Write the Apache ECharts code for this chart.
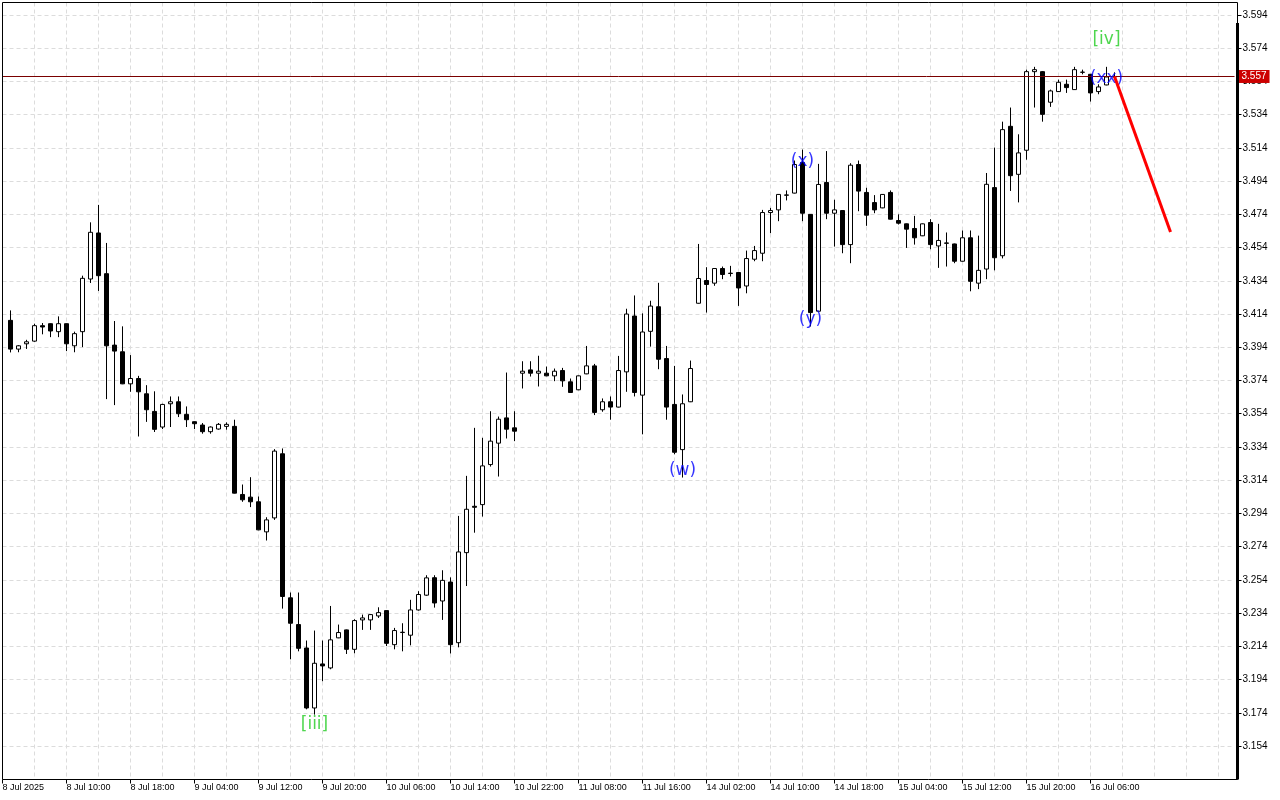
<!DOCTYPE html>
<html>
<head>
<meta charset="utf-8">
<script src="https://cdn.jsdelivr.net/npm/echarts@6/dist/echarts.min.js"></script>
<style>
  html, body { margin: 0; padding: 0; background: #fff; }
  #chart { width: 1280px; height: 800px; }
</style>
</head>
<body>
<div id="chart"></div>
<script>
// ---- Data (hourly candles) ----
const opens = [
  3.4102, 3.3929, 3.3961, 3.3977, 3.4070, 3.4082, 3.4034, 3.4082, 3.3949, 3.4034,
  3.4351, 3.4628, 3.4383, 3.3953, 3.3913, 3.3720, 3.3752, 3.3660, 3.3554, 3.3460,
  3.3600, 3.3612, 3.3536, 3.3492, 3.3472, 3.3432, 3.3448, 3.3464, 3.3464, 3.3054,
  3.3038, 3.3010, 3.2829, 3.2913, 3.3299, 3.2432, 3.2271, 3.2130, 3.1769, 3.2034,
  3.2010, 3.2191, 3.2239, 3.2122, 3.2299, 3.2299, 3.2323, 3.2355, 3.2150, 3.2223,
  3.2207, 3.2359, 3.2448, 3.2553, 3.2413, 3.2527, 3.2162, 3.2704, 3.2983, 3.2993,
  3.3234, 3.3363, 3.3515, 3.3455, 3.3784, 3.3804, 3.3784, 3.3784, 3.3768, 3.3800,
  3.3732, 3.3684, 3.3780, 3.3828, 3.3564, 3.3612, 3.3580, 3.3792, 3.4128, 3.3652,
  3.4036, 3.4184, 3.3872, 3.3596, 3.3324, 3.3612, 3.4205, 3.4342, 3.4326, 3.4414,
  3.4386, 3.4390, 3.4309, 3.4470, 3.4506, 3.4751, 3.4767, 3.4855, 3.4868, 3.5052,
  3.4740, 3.4157, 3.4932, 3.4747, 3.4763, 3.4558, 3.5040, 3.4872, 3.4811, 3.4779,
  3.4872, 3.4703, 3.4683, 3.4655, 3.4611, 3.4691, 3.4550, 3.4568, 3.4562, 3.4458,
  3.4599, 3.4326, 3.4411, 3.4901, 3.4491, 3.5270, 3.4981, 3.5126, 3.5599, 3.5599,
  3.5415, 3.5479, 3.5523, 3.5491, 3.5596, 3.5583, 3.5479, 3.5519, 3.5567
];
const closes = [
  3.3929, 3.3949, 3.3973, 3.4070, 3.4062, 3.4038, 3.4082, 3.3961, 3.4022, 3.4355,
  3.4632, 3.4371, 3.3949, 3.3917, 3.3720, 3.3752, 3.3672, 3.3564, 3.3446, 3.3596,
  3.3612, 3.3540, 3.3504, 3.3480, 3.3432, 3.3460, 3.3476, 3.3476, 3.3062, 3.3022,
  3.3010, 3.2841, 3.2901, 3.3315, 3.2440, 3.2279, 3.2128, 3.1769, 3.2038, 3.2022,
  3.2179, 3.2223, 3.2122, 3.2295, 3.2311, 3.2331, 3.2343, 3.2158, 3.2235, 3.2225,
  3.2359, 3.2452, 3.2552, 3.2401, 3.2537, 3.2150, 3.2708, 3.2965, 3.2977, 3.3226,
  3.3375, 3.3507, 3.3447, 3.3435, 3.3796, 3.3784, 3.3796, 3.3768, 3.3796, 3.3738,
  3.3668, 3.3768, 3.3828, 3.3548, 3.3612, 3.3580, 3.3800, 3.4140, 3.3668, 3.4032,
  3.4188, 3.3868, 3.3580, 3.3308, 3.3600, 3.3812, 3.4354, 3.4318, 3.4414, 3.4378,
  3.4384, 3.4297, 3.4474, 3.4522, 3.4751, 3.4763, 3.4860, 3.4857, 3.5040, 3.4747,
  3.4149, 3.4920, 3.4747, 3.4767, 3.4558, 3.5036, 3.4880, 3.4735, 3.4767, 3.4860,
  3.4711, 3.4687, 3.4651, 3.4599, 3.4683, 3.4558, 3.4583, 3.4566, 3.4458, 3.4599,
  3.4337, 3.4403, 3.4921, 3.4479, 3.5250, 3.4973, 3.5110, 3.5599, 3.5611, 3.5342,
  3.5483, 3.5535, 3.5503, 3.5611, 3.5595, 3.5471, 3.5507, 3.5567, 3.5570
];
const lows = [
  3.3909, 3.3910, 3.3930, 3.3973, 3.4018, 3.4001, 3.4001, 3.3917, 3.3910, 3.3941,
  3.4327, 3.4279, 3.3628, 3.3592, 3.3718, 3.3672, 3.3403, 3.3491, 3.3430, 3.3448,
  3.3460, 3.3520, 3.3460, 3.3448, 3.3420, 3.3420, 3.3444, 3.3444, 3.3060, 3.3010,
  3.2978, 3.2839, 3.2777, 3.2901, 3.2367, 3.2062, 3.2110, 3.1761, 3.1729, 3.1930,
  3.2002, 3.2189, 3.2094, 3.2098, 3.2239, 3.2239, 3.2311, 3.2142, 3.2122, 3.2110,
  3.2146, 3.2355, 3.2444, 3.2373, 3.2299, 3.2097, 3.2134, 3.2503, 3.2824, 3.2921,
  3.3222, 3.3162, 3.3391, 3.3375, 3.3692, 3.3764, 3.3704, 3.3766, 3.3736, 3.3702,
  3.3666, 3.3682, 3.3778, 3.3532, 3.3552, 3.3504, 3.3578, 3.3672, 3.3644, 3.3416,
  3.3944, 3.3808, 3.3504, 3.3296, 3.3156, 3.3610, 3.4203, 3.4149, 3.4310, 3.4350,
  3.4366, 3.4189, 3.4265, 3.4458, 3.4458, 3.4627, 3.4699, 3.4824, 3.4866, 3.4699,
  3.4065, 3.4155, 3.4711, 3.4546, 3.4506, 3.4446, 3.4759, 3.4671, 3.4747, 3.4777,
  3.4709, 3.4679, 3.4538, 3.4558, 3.4609, 3.4530, 3.4418, 3.4426, 3.4446, 3.4456,
  3.4277, 3.4290, 3.4350, 3.4403, 3.4475, 3.4881, 3.4812, 3.5069, 3.5383, 3.5298,
  3.5387, 3.5477, 3.5471, 3.5489, 3.5583, 3.5419, 3.5463, 3.5517, 3.5560
];
const highs = [
  3.4162, 3.3953, 3.3985, 3.4082, 3.4086, 3.4084, 3.4126, 3.4084, 3.4034, 3.4371,
  3.4692, 3.4797, 3.4568, 3.4098, 3.4066, 3.3893, 3.3768, 3.3712, 3.3675, 3.3600,
  3.3644, 3.3644, 3.3584, 3.3494, 3.3484, 3.3464, 3.3484, 3.3488, 3.3504, 3.3114,
  3.3158, 3.3042, 3.2917, 3.3327, 3.3331, 3.2464, 3.2464, 3.2175, 3.2235, 3.2175,
  3.2383, 3.2271, 3.2241, 3.2303, 3.2331, 3.2333, 3.2375, 3.2357, 3.2251, 3.2279,
  3.2420, 3.2472, 3.2568, 3.2568, 3.2598, 3.2555, 3.2925, 3.3166, 3.3455, 3.3395,
  3.3555, 3.3523, 3.3788, 3.3555, 3.3856, 3.3856, 3.3889, 3.3824, 3.3812, 3.3816,
  3.3752, 3.3770, 3.3948, 3.3840, 3.3632, 3.3644, 3.3888, 3.4172, 3.4252, 3.4144,
  3.4220, 3.4328, 3.3948, 3.3828, 3.3656, 3.3860, 3.4562, 3.4422, 3.4416, 3.4426,
  3.4430, 3.4392, 3.4522, 3.4550, 3.4767, 3.4779, 3.4862, 3.4884, 3.5064, 3.5130,
  3.4742, 3.5044, 3.5121, 3.4828, 3.4765, 3.5048, 3.5064, 3.4900, 3.4856, 3.4862,
  3.4884, 3.4740, 3.4685, 3.4731, 3.4685, 3.4711, 3.4683, 3.4631, 3.4564, 3.4643,
  3.4643, 3.4612, 3.4989, 3.5142, 3.5298, 3.5383, 3.5222, 3.5611, 3.5628, 3.5603,
  3.5491, 3.5551, 3.5551, 3.5628, 3.5611, 3.5585, 3.5523, 3.5628, 3.5595
];

// x-axis tick labels (one every 8 bars; first one marks the bar before the first full candle)
const xTickLabels = [
  '8 Jul 2025', '8 Jul 10:00', '8 Jul 18:00', '9 Jul 04:00', '9 Jul 12:00', '9 Jul 20:00',
  '10 Jul 06:00', '10 Jul 14:00', '10 Jul 22:00', '11 Jul 08:00', '11 Jul 16:00',
  '14 Jul 02:00', '14 Jul 10:00', '14 Jul 18:00', '15 Jul 04:00', '15 Jul 12:00',
  '15 Jul 20:00', '16 Jul 06:00'
];
// y-axis tick values
const yTicks = [
  3.154, 3.174, 3.194, 3.214, 3.234, 3.254, 3.274, 3.294, 3.314, 3.334, 3.354, 3.374,
  3.394, 3.414, 3.434, 3.454, 3.474, 3.494, 3.514, 3.534, 3.554, 3.574, 3.594
];
const currentPrice = 3.557;

// Elliott wave labels: [bar index, price anchor, text, colour group]
const waveLabels = [
  { bar: 38,  price: 3.1684, text: '[iii]', kind: 'green' },
  { bar: 84,  price: 3.3207, text: '(w)',   kind: 'blue' },
  { bar: 99,  price: 3.5067, text: '(x)',   kind: 'blue' },
  { bar: 100, price: 3.4116, text: '(y)',   kind: 'blue' },
  { bar: 137, price: 3.5802, text: '[iv]',  kind: 'green' },
  { bar: 137, price: 3.5567, text: '(xx)',  kind: 'blue' }
];
// Forecast arrow: [bar index, price]
const forecast = [[138, 3.557], [145, 3.4634]];

// ---- Build ----
const SLOT_OFFSET = 1;     // category 0 is the (hidden) bar before candle 0
const TOTAL_SLOTS = 155;   // includes empty future bars on the right
const categories = [];
for (let i = 0; i < TOTAL_SLOTS; i++) {
  categories.push(i % 8 === 0 && i / 8 < xTickLabels.length ? xTickLabels[i / 8] : '');
}
const candleData = ['-'];
for (let i = 0; i < opens.length; i++) {
  candleData.push([opens[i], closes[i], lows[i], highs[i]]);
}
const lastTickIdx = (xTickLabels.length - 1) * 8;
const showTick = (idx) => idx % 8 === 0 && idx <= lastTickIdx;

const colors = { green: '#22cc22', blue: '#0000ff' };
const labelSeries = ['green', 'blue'].map(kind => ({
  type: 'scatter',
  symbolSize: 1,
  itemStyle: { color: 'rgba(0,0,0,0)' },
  silent: true,
  z: 5,
  label: {
    show: true,
    position: 'inside',
    offset: [0, 2],
    color: colors[kind],
    fontFamily: 'DejaVu Sans',
    fontSize: 17,
    formatter: p => p.data.name
  },
  data: waveLabels.filter(w => w.kind === kind)
    .map(w => ({ name: w.text, value: [w.bar + SLOT_OFFSET, w.price] }))
}));

const axisFont = { fontFamily: 'Liberation Sans', color: '#000' };

const chart = echarts.init(document.getElementById('chart'), null, { renderer: 'canvas' });
chart.setOption({
  animation: false,
  backgroundColor: '#fff',
  grid: { left: 2.5, top: 2.5, width: 1232, height: 777, outerBoundsMode: 'none', containLabel: false },
  xAxis: {
    type: 'category',
    data: categories,
    boundaryGap: false,
    axisLine: { show: false },
    axisTick: { show: true, interval: showTick, length: 4, lineStyle: { color: '#000' } },
    axisLabel: { show: true, interval: showTick, align: 'left', margin: 4, fontSize: 9, ...axisFont },
    splitLine: { show: true, interval: 3, lineStyle: { color: '#dcdcdc', type: [4, 3], width: 1 } }
  },
  yAxis: {
    type: 'value',
    position: 'right',
    offset: 3,
    min: 3.133846,
    max: 3.601524,
    scale: true,
    axisLine: { show: false },
    axisTick: { show: true, length: 4, customValues: yTicks, lineStyle: { color: '#000' } },
    axisLabel: { show: true, margin: 5, fontSize: 10, customValues: yTicks, formatter: v => Number(v).toFixed(3), ...axisFont },
    splitLine: { show: true, lineStyle: { color: '#dcdcdc', type: [4, 3], width: 1 } }
  },
  series: [
    {
      type: 'candlestick',
      data: candleData,
      barWidth: 4,
      silent: true,
      itemStyle: {
        color: '#ffffff', color0: '#000000',
        borderColor: '#000000', borderColor0: '#000000', borderColorDoji: '#000000',
        borderWidth: 1
      },
      markLine: {
        silent: true,
        precision: 4,
        symbol: ['none', 'none'],
        lineStyle: { color: '#7a0000', width: 1, type: 'solid' },
        label: {
          show: true, position: 'end', distance: 4,
          formatter: currentPrice.toFixed(3),
          backgroundColor: '#cc0000', color: '#fff',
          fontFamily: 'Liberation Sans', fontSize: 10, padding: [2, 3, 1, 3]
        },
        data: [{ yAxis: currentPrice }]
      }
    },
    {
      type: 'line',
      data: forecast.map(p => [p[0] + SLOT_OFFSET, p[1]]),
      symbol: 'none',
      silent: true,
      z: 6,
      lineStyle: { color: '#ff0000', width: 3, cap: 'butt' }
    },
    ...labelSeries
  ],
  graphic: [
    { type: 'rect', silent: true, z: 100,
      shape: { x: 2.5, y: 2.5, width: 1235, height: 777 },
      style: { fill: 'none', stroke: '#000', lineWidth: 1 } },
    { type: 'line', silent: true, z: 100,
      shape: { x1: 1237.5, y1: 23, x2: 1237.5, y2: 779.5 },
      style: { stroke: '#000', lineWidth: 3 } }
  ]
});
</script>
</body>
</html>
